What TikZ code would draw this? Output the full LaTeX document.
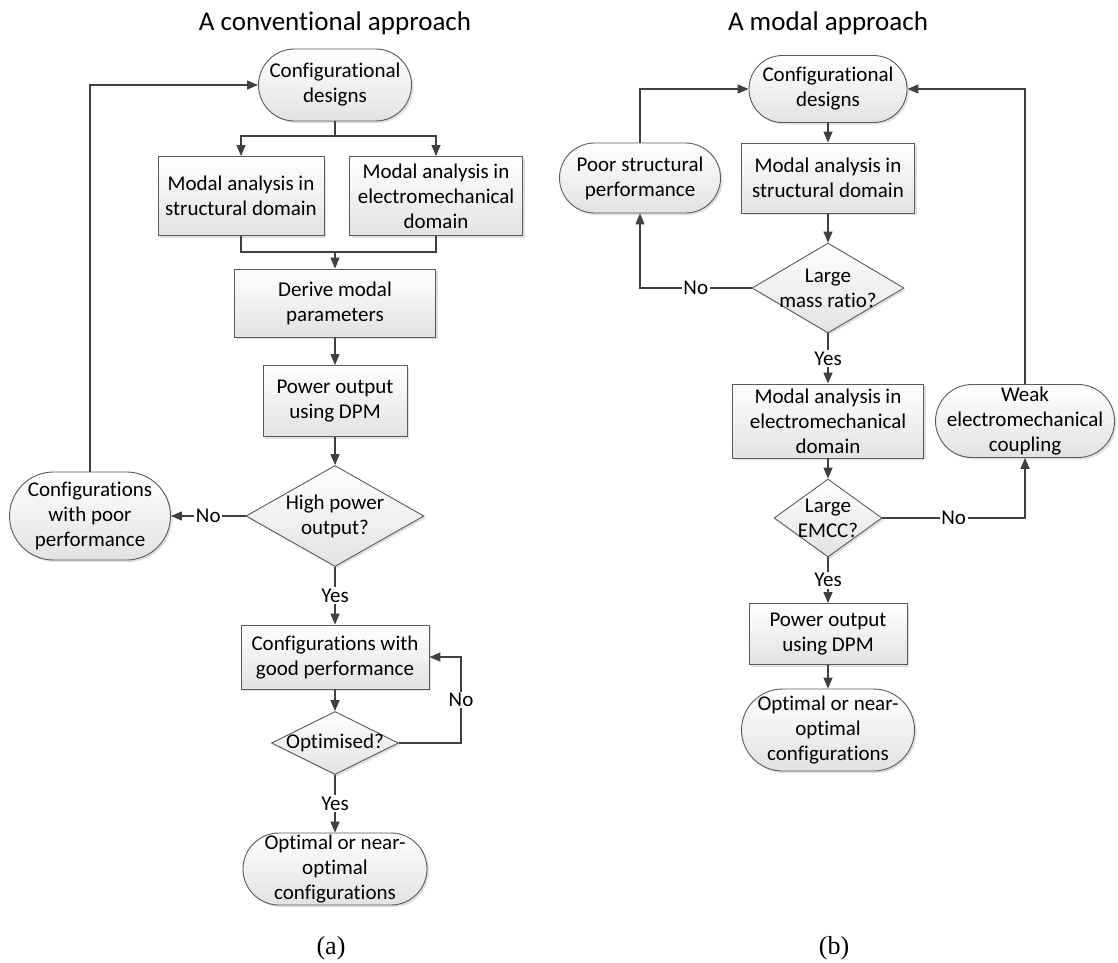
\documentclass[tikz,border=0pt]{standalone}
\usepackage{fontspec}
\setmainfont{Carlito}[Ligatures=NoCommon]
\newfontfamily\capfont{Liberation Serif}
\usepackage{tikz}
\usetikzlibrary{shapes}
\usetikzlibrary{arrows.meta}
\usetikzlibrary{shadows}
\usetikzlibrary{calc}
\definecolor{edgegray}{HTML}{5A5A5A}
\definecolor{linegray}{HTML}{404040}
\definecolor{fillgray}{HTML}{E2E2E2}
\begin{document}
\begin{tikzpicture}[
  x=1pt, y=-1pt,
  font=\fontsize{21}{25}\selectfont,
  flow/.style={
    -{Triangle[length=11pt,width=9pt]}, draw=linegray, line width=1.3pt
  },
  wire/.style={
    draw=linegray, line width=1.3pt
  },
  box/.style 2 args={
    rectangle,
    draw=edgegray,
    line width=0.9pt,
    top color=white,
    bottom color=fillgray,
    drop shadow={shadow xshift=2pt, shadow yshift=-2pt, opacity=0.25},
    minimum width=#1,
    minimum height=#2,
    inner sep=0pt,
    align=center},
  term/.style 2 args={
    box={#1}{#2},
    rounded corners=#2/2},
  dec/.style 2 args={
    diamond,
    draw=edgegray,
    line width=0.9pt,
    top color=white,
    bottom color=fillgray,
    drop shadow={shadow xshift=2pt, shadow yshift=-2pt, opacity=0.25},
    minimum width=#1,
    minimum height=#2,
    inner sep=0pt},
  txt/.style={align=center, inner sep=0pt},
  lbl/.style={fill=white, inner sep=1.5pt},
  caplbl/.style={font=\capfont\fontsize{26}{30}\selectfont},
  ttl/.style={font=\fontsize{27}{32}\selectfont},
]

  \def\colA{335}%
  \def\colB{828}%

  \path[use as bounding box, fill=white] (0,0) rectangle (1118,962);

  % Titles
  \node[ttl] (titleA) at (\colA, 23) {A conventional approach};
  \node[ttl] (titleB) at (\colB, 23) {A modal approach};

  % (a) Conventional approach
  \node[term={153pt}{72pt}] (cfgA) at (\colA, 85) {Configurational\\designs};
  \node[box={166pt}{79pt}] (strA) at (241, 196) {Modal analysis in\\structural domain};
  \node[box={173pt}{79pt}] (emA) at (436, 196) {Modal analysis in\\electromechanical\\domain};
  \node[box={201pt}{68pt}] (derive) at (\colA, 303) {Derive modal\\parameters};
  \node[box={144pt}{71pt}] (powA) at (\colA, 401) {Power output\\using DPM};
  \node[dec={178pt}{101pt}] (high) at (\colA, 516) {};
  \node[txt] (high_t) at (high) {High power\\output?};
  \node[term={161pt}{88pt}] (poorA) at (90, 516) {Configurations\\with poor\\performance};
  \node[box={188pt}{64pt}] (good) at (\colA, 657) {Configurations with\\good performance};
  \node[dec={127pt}{63pt}] (opt) at (\colA, 743) {};
  \node[txt] (opt_t) at (opt) {Optimised?};
  \node[term={184pt}{72pt}] (endA) at (\colA, 869) {Optimal or near-\\optimal\\configurations};
  \node[caplbl] (capA) at (331, 948) {(a)};

  \coordinate (splitA) at (\colA, 136);
  \coordinate (mergeA) at (\colA, 252);
  \coordinate (loopA) at (461, 743);
  \draw[wire] (cfgA.south) -- (splitA);
  \draw[flow] (splitA) -| (strA.north);
  \draw[flow] (splitA) -| (emA.north);
  \draw[wire] (strA.south) |- (mergeA) -| (emA.south);
  \draw[flow] (mergeA) -- (derive.north);
  \draw[flow] (derive) -- (powA);
  \draw[flow] (powA) -- (high);
  \draw[flow] (high.west) -- node[lbl] (noA1) {No} (poorA.east);
  \draw[flow] (poorA.north) |- (cfgA.west);
  \draw[flow] (high.south) -- node[lbl] (yesA1) {Yes} (good.north);
  \draw[flow] (good) -- (opt);
  \draw[flow] (opt.east) -- (loopA) |- node[lbl, pos=0.25] (noA2) {No} (good.east);
  \draw[flow] (opt.south) -- node[lbl] (yesA2) {Yes} (endA.north);

  % (b) Modal approach
  \node[term={158pt}{67pt}] (cfgB) at (\colB, 89) {Configurational\\designs};
  \node[box={173pt}{70pt}] (strB) at (\colB, 178) {Modal analysis in\\structural domain};
  \node[dec={152pt}{90pt}] (mass) at (\colB, 288) {};
  \node[txt] (mass_t) at (mass) {Large\\mass ratio?};
  \node[term={161pt}{70pt}] (poorB) at (640, 178) {Poor structural\\performance};
  \node[box={191pt}{74pt}] (emB) at (\colB, 421) {Modal analysis in\\electromechanical\\domain};
  \node[term={179pt}{73pt}] (weak) at (1025, 421) {Weak\\electromechanical\\coupling};
  \node[dec={108pt}{78pt}] (emcc) at (\colB, 518) {};
  \node[txt] (emcc_t) at (emcc) {Large\\EMCC?};
  \node[box={158pt}{61pt}] (powB) at (\colB, 634) {Power output\\using DPM};
  \node[term={173pt}{82pt}] (endB) at (\colB, 730) {Optimal or near-\\optimal\\configurations};
  \node[caplbl] (capB) at (834, 948) {(b)};

  \draw[flow] (cfgB) -- (strB);
  \draw[flow] (strB) -- (mass);
  \draw[flow] (mass.west) -| node[lbl, pos=0.25] (noB1) {No} (poorB.south);
  \draw[flow] (poorB.north) |- (cfgB.west);
  \draw[flow] (mass.south) -- node[lbl] (yesB1) {Yes} (emB.north);
  \draw[flow] (emB) -- (emcc);
  \draw[flow] (emcc.east) -| node[lbl, pos=0.25] (noB2) {No} (weak.south);
  \draw[flow] (weak.north) |- (cfgB.east);
  \draw[flow] (emcc.south) -- node[lbl] (yesB2) {Yes} (powB.north);
  \draw[flow] (powB) -- (endB);

\end{tikzpicture}
\end{document}
